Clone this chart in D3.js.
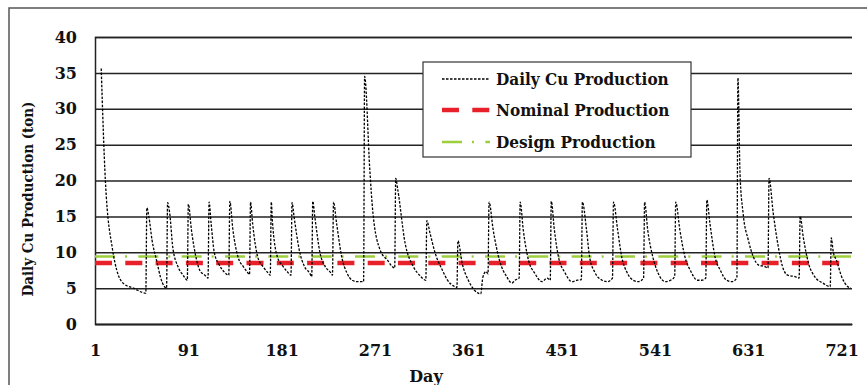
<!DOCTYPE html>
<html>
<head>
<meta charset="utf-8">
<script src="https://cdn.jsdelivr.net/npm/d3@7"></script>
<style>
  html, body { margin: 0; padding: 0; background: #fff; }
  svg { display: block; }
  text { font-family: "DejaVu Serif", serif; font-weight: bold; fill: #111; }
  .cond { font-family: "DejaVu Serif Condensed", "DejaVu Serif", serif; }
</style>
</head>
<body>
<svg id="chart" width="867" height="385"></svg>
<script>
// ---------- data ----------
const seriesNames = ["Daily Cu Production", "Nominal Production", "Design Production"];
const yTicks = [0, 5, 10, 15, 20, 25, 30, 35, 40];
const xTickDays = [1, 91, 181, 271, 361, 451, 541, 631, 721];
const nominalProduction = 8.5;
const designProduction = 9.4;
const lastDay = 730;

// keypoint days and daily Cu production values (ton)
const days = [
  7, 11, 18, 22, 28, 38, 50,
  51, 53, 56, 61, 64, 68, 70,
  71, 73, 76, 81, 86, 90,
  91, 94, 99, 102, 107, 110,
  111, 113, 116, 121, 126, 130,
  131, 134, 139, 144, 148, 150,
  151, 153, 158, 163, 168, 170,
  171, 172, 177, 182, 187, 190,
  191, 193, 198, 203, 208, 210,
  211, 213, 218, 223, 228, 230,
  231, 234, 239, 244, 249, 254, 260,
  261, 266, 269, 276, 283, 290,
  291, 293, 300, 308, 314, 320,
  321, 324, 329, 336, 341, 348, 350,
  351, 355, 361, 367, 373, 375, 378, 380,
  381, 385, 391, 398, 403, 406, 410,
  411, 414, 419, 425, 432, 437, 440,
  441, 444, 448, 454, 461, 466, 470,
  471, 475, 478, 483, 490, 495, 500,
  501, 505, 509, 514, 520, 525, 530,
  531, 534, 539, 544, 551, 556, 560,
  561, 565, 570, 575, 582, 586, 590,
  591, 594, 599, 604, 610, 615, 620,
  621, 623, 626, 631, 636, 641, 647, 650,
  651, 655, 660, 664, 669, 676, 680,
  681, 684, 689, 695, 703, 710,
  711, 713, 716, 721, 727, 730
];
const dailyCu = [
  35.6, 20.0, 10.3, 7.5, 5.7, 5.0, 4.3,
  16.2, 14.9, 11.7, 8.5, 6.6, 5.2, 5.0,
  16.9, 15.5, 10.7, 8.0, 6.8, 6.1,
  16.7, 13.1, 8.9, 7.5, 6.8, 6.4,
  17.0, 14.0, 10.0, 8.2, 7.2, 6.8,
  17.1, 13.1, 9.3, 8.0, 7.2, 6.9,
  17.0, 14.0, 9.3, 8.0, 7.1, 6.8,
  17.0, 14.5, 9.3, 8.1, 7.2, 6.8,
  16.9, 14.9, 10.3, 8.0, 7.1, 6.6,
  17.1, 14.9, 9.9, 8.0, 7.2, 6.8,
  17.0, 14.0, 9.3, 7.1, 6.1, 5.9, 5.9,
  34.5, 21.5, 15.5, 10.3, 8.9, 7.8,
  20.3, 18.7, 11.3, 8.0, 6.8, 6.1,
  14.4, 12.7, 9.9, 7.5, 6.1, 5.2, 5.1,
  11.6, 8.5, 6.1, 4.7, 4.2, 6.5, 7.3, 7.0,
  17.0, 13.1, 8.9, 6.6, 5.7, 6.1, 6.4,
  17.0, 13.1, 8.9, 7.1, 5.9, 6.4, 6.1,
  17.1, 13.1, 9.3, 7.2, 5.9, 6.1, 6.2,
  17.0, 13.1, 9.3, 7.2, 6.1, 5.9, 6.4,
  17.0, 13.1, 9.3, 7.2, 6.1, 5.9, 6.4,
  17.0, 13.1, 9.3, 7.1, 5.9, 6.1, 6.6,
  17.0, 13.1, 9.3, 7.5, 6.1, 6.1, 6.4,
  17.3, 14.0, 9.3, 7.5, 6.1, 5.9, 6.4,
  34.3, 21.0, 15.4, 11.7, 9.3, 8.2, 8.0, 7.8,
  20.3, 15.5, 10.7, 8.0, 6.8, 6.6, 6.4,
  15.0, 12.1, 8.5, 6.6, 5.7, 5.2,
  12.0, 10.0, 8.9, 6.6, 5.2, 5.0
];

// ---------- layout ----------
const svg = d3.select("#chart");
const plot = { left: 95, right: 852, top: 37, bottom: 324 };

const x = d3.scaleLinear().domain([1, lastDay + 1]).range([plot.left, plot.right]);
const y = d3.scaleLinear().domain([0, 40]).range([plot.bottom, plot.top]);

// outer frame
svg.append("rect")
  .attr("x", 9).attr("y", 8).attr("width", 870).attr("height", 400)
  .attr("fill", "#fff").attr("stroke", "#555").attr("stroke-width", 1.5);

// y axis with gridlines
const yAxis = svg.append("g")
  .attr("transform", `translate(${plot.left},0)`)
  .call(d3.axisLeft(y).tickValues(yTicks).tickSize(-(plot.right - plot.left)).tickPadding(18));
yAxis.selectAll(".tick line").attr("stroke", "#222").attr("stroke-width", 1.5);
yAxis.select(".domain").attr("stroke", "#222").attr("stroke-width", 1.5);
yAxis.selectAll(".tick text").style("font-size", "16px").attr("fill", "#111");

// x axis
const xAxis = svg.append("g")
  .attr("transform", `translate(0,${plot.bottom})`)
  .call(d3.axisBottom(x).tickValues(xTickDays).tickSize(0).tickPadding(21).tickFormat(d3.format("d")));
xAxis.select(".domain").attr("stroke", "#222").attr("stroke-width", 1.5);
xAxis.selectAll(".tick text").style("font-size", "16px").attr("fill", "#111");

// axis titles
svg.append("text")
  .attr("x", 426).attr("y", 382)
  .attr("text-anchor", "middle")
  .style("font-size", "16px")
  .text("Day");
svg.append("text")
  .attr("class", "cond")
  .attr("transform", `translate(33,199) rotate(-90)`)
  .attr("text-anchor", "middle")
  .style("font-size", "15px")
  .text("Daily Cu Production  (ton)");

// reference lines
const refLine = d3.line().x(d => x(d[0])).y(d => y(d[1]));
const styles = {
  nominal: { stroke: "#e8202a", width: 4.5, dash: "17,13.3" },
  design: { stroke: "#9dcf3c", width: 2.5, dash: "20,10,2,11.33" },
  daily: { stroke: "#000", width: 1.3, dash: "2.5,1.5" }
};

svg.append("path")
  .datum([[1, designProduction], [lastDay, designProduction]])
  .attr("d", refLine)
  .attr("fill", "none")
  .attr("stroke", styles.design.stroke)
  .attr("stroke-width", styles.design.width)
  .attr("stroke-dasharray", styles.design.dash);

svg.append("path")
  .datum([[1, nominalProduction], [lastDay, nominalProduction]])
  .attr("d", refLine)
  .attr("fill", "none")
  .attr("stroke", styles.nominal.stroke)
  .attr("stroke-width", styles.nominal.width)
  .attr("stroke-dasharray", styles.nominal.dash);

// daily series
const dailyData = days.map((d, i) => [d, dailyCu[i]]);
svg.append("path")
  .datum(dailyData)
  .attr("d", d3.line().x(d => x(d[0])).y(d => y(d[1])).curve(d3.curveMonotoneX))
  .attr("fill", "none")
  .attr("stroke", styles.daily.stroke)
  .attr("stroke-width", styles.daily.width)
  .attr("stroke-dasharray", styles.daily.dash);

// legend
const lg = svg.append("g");
lg.append("rect")
  .attr("x", 423).attr("y", 62).attr("width", 268).attr("height", 95)
  .attr("fill", "#fff").attr("stroke", "#333").attr("stroke-width", 1.2);
const legendKeys = ["daily", "nominal", "design"];
const legendY = [79, 110, 142];
legendKeys.forEach((k, i) => {
  lg.append("line")
    .attr("x1", 442).attr("x2", 490)
    .attr("y1", legendY[i]).attr("y2", legendY[i])
    .attr("stroke", styles[k].stroke)
    .attr("stroke-width", styles[k].width)
    .attr("stroke-dasharray", styles[k].dash);
  lg.append("text")
    .attr("class", "cond")
    .attr("x", 496).attr("y", legendY[i])
    .attr("dy", "0.35em")
    .style("font-size", "17px")
    .text(seriesNames[i]);
});
</script>
</body>
</html>
